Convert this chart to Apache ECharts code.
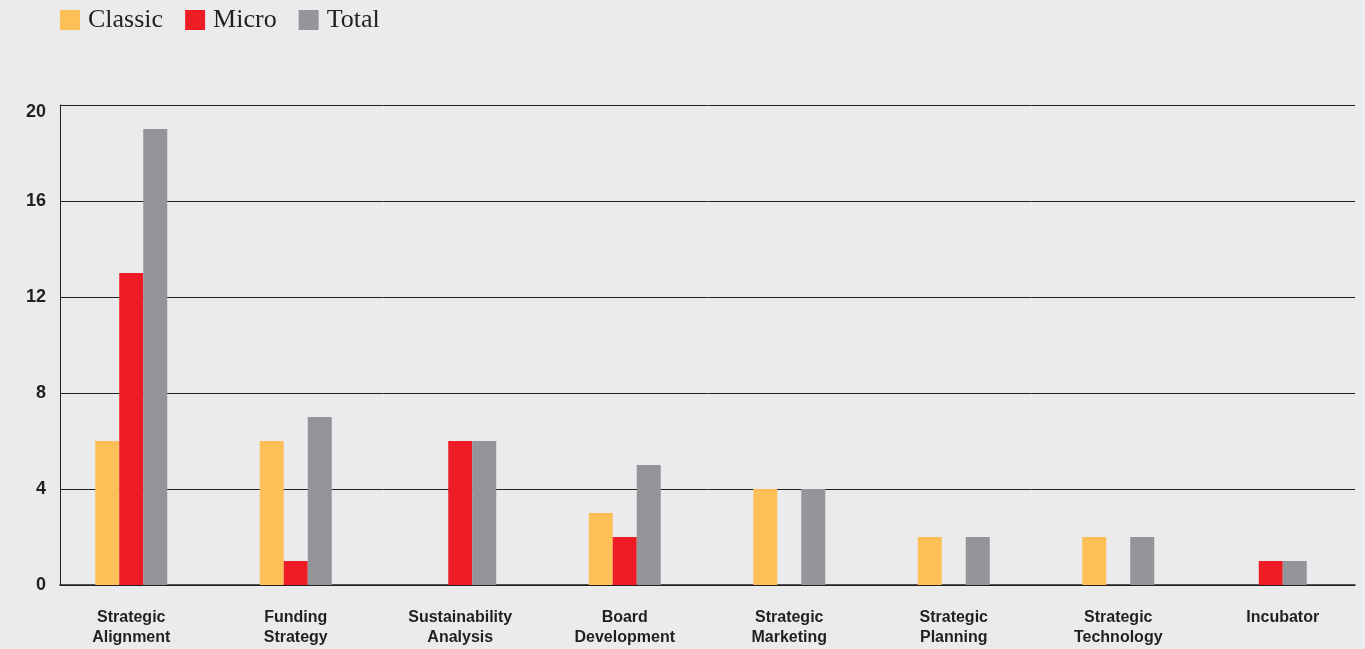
<!DOCTYPE html>
<html>
<head>
<meta charset="utf-8">
<script src="https://cdn.jsdelivr.net/npm/echarts@6/dist/echarts.min.js"></script>
<style>
html,body{margin:0;padding:0;background:#ebebed;}
#c{width:1365px;height:649px;}
</style>
</head>
<body>
<div id="c"></div>
<script>
const categories = ['Strategic\nAlignment','Funding\nStrategy','Sustainability\nAnalysis','Board\nDevelopment','Strategic\nMarketing','Strategic\nPlanning','Strategic\nTechnology','Incubator'];
const classicValues = [6, 6, 0, 3, 4, 2, 2, 0];
const microValues   = [13, 1, 6, 2, 0, 0, 0, 1];
const totalValues   = [19, 7, 6, 5, 4, 2, 2, 1];
const yTicks = [0, 4, 8, 12, 16, 20];
// categories where the two remaining bars are centred (no Classic bar)
const centredCats = [7];

const C_Y = '#fdbf57', C_R = '#ee1c25', C_G = '#939598', INK = '#231f20';

const mainData = arr => arr.map((v, i) => centredCats.includes(i) ? '-' : v);
const sideData = arr => arr.map((v, i) => centredCats.includes(i) ? v : '-');

const noSplit = { splitLine: { show: false }, splitArea: { show: false }, minorSplitLine: { show: false } };

const chart = echarts.init(document.getElementById('c'));
chart.setOption({
  backgroundColor: '#ebebed',
  animation: false,
  legend: {
    left: 60, top: 7, padding: 0, itemWidth: 20, itemHeight: 20, itemGap: 22,
    icon: 'rect',
    data: ['Classic', 'Micro', 'Total'],
    textStyle: { fontFamily: 'Liberation Serif', fontSize: 26, color: INK, padding: [0, 0, 0, 3] }
  },
  grid: [
    { left: 49, right: 0, top: 105, bottom: 64 },
    { left: 60, right: 10, top: 105, bottom: 64 }
  ],
  xAxis: [
    Object.assign({ type: 'category', gridIndex: 0, data: categories,
      axisLine: { show: false }, axisTick: { show: false },
      axisLabel: { margin: 23, fontFamily: 'Liberation Sans', fontWeight: 'bold', fontSize: 16, color: INK, lineHeight: 20, interval: 0 } }, noSplit),
    Object.assign({ type: 'value', gridIndex: 1, min: 0, max: 1,
      axisLine: { show: true, onZero: false, lineStyle: { color: INK, width: 1.5 } }, axisTick: { show: false }, axisLabel: { show: false } }, noSplit),
    Object.assign({ type: 'category', gridIndex: 0, data: categories, show: false }, noSplit)
  ],
  yAxis: [
    Object.assign({ type: 'value', gridIndex: 0, min: 0, max: 20, interval: 4, show: false }, noSplit),
    { type: 'value', gridIndex: 1, min: 0, max: 20, interval: 4,
      axisLine: { show: true, onZero: false, lineStyle: { color: INK, width: 1 } },
      axisTick: { show: false },
      splitLine: { show: true, lineStyle: { color: INK, width: 1 } },
      axisLabel: {
        margin: 14, fontFamily: 'Liberation Sans', fontWeight: 'bold', fontSize: 18, color: INK,
        formatter: v => v === yTicks[yTicks.length - 1] ? '{top|' + v + '}' : String(v),
        rich: { top: { fontFamily: 'Liberation Sans', fontWeight: 'bold', fontSize: 18, color: INK, padding: [14, 0, 0, 0] } }
      } }
  ],
  series: [
    { name: 'Classic', type: 'bar', xAxisIndex: 0, yAxisIndex: 0, barWidth: 24, barGap: '0%', data: mainData(classicValues), itemStyle: { color: C_Y } },
    { name: 'Micro', type: 'bar', xAxisIndex: 0, yAxisIndex: 0, barWidth: 24, barGap: '0%', data: mainData(microValues), itemStyle: { color: C_R } },
    { name: 'Total', type: 'bar', xAxisIndex: 0, yAxisIndex: 0, barWidth: 24, barGap: '0%', data: mainData(totalValues), itemStyle: { color: C_G } },
    { name: 'Micro', type: 'bar', xAxisIndex: 2, yAxisIndex: 0, barWidth: 24, barGap: '0%', data: sideData(microValues), itemStyle: { color: C_R } },
    { name: 'Total', type: 'bar', xAxisIndex: 2, yAxisIndex: 0, barWidth: 24, barGap: '0%', data: sideData(totalValues), itemStyle: { color: C_G } }
  ]
});
</script>
</body>
</html>
